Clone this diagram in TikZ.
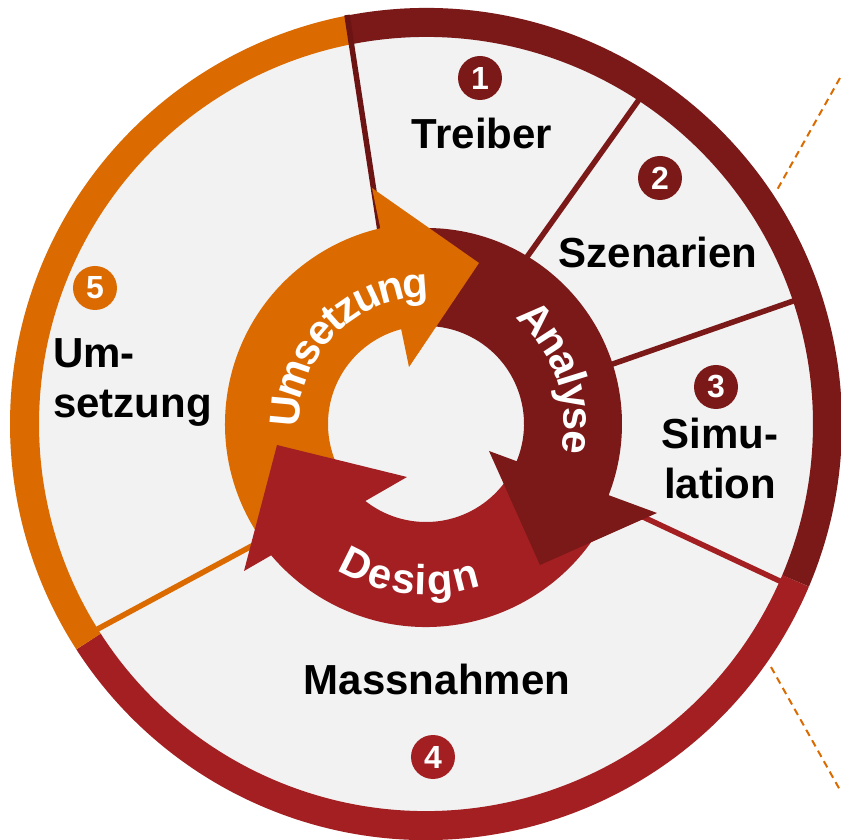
\documentclass[tikz,border=0pt]{standalone}
\usepackage{fontspec}
\setmainfont{Liberation Sans}
\usepackage{xcolor}
\usetikzlibrary{calc, decorations.text}

\definecolor{analysered}{HTML}{7B1818}
\definecolor{designred}{HTML}{A31F22}
\definecolor{umsorange}{HTML}{DB6B00}
\definecolor{paper}{HTML}{F2F2F2}
\definecolor{seamred}{HTML}{6C1313}

\newcommand{\labelfont}{\fontsize{42}{50}\selectfont\bfseries}
\newcommand{\arrowfont}{\fontsize{42}{42}\selectfont\bfseries}

\begin{document}
\begin{tikzpicture}[x=1pt, y=1pt,
		badge/.style = {circle, minimum size = 44pt, inner sep = 0pt, text = white, font = \fontsize{32}{32}\selectfont\bfseries},
		phase/.style = {inner sep = 0pt, font = \labelfont},
		divider/.style = {line width = 5.5pt},
		ringpart/.style = {line width = 29pt},
		callout/.style = {umsorange, line width = 2pt, dash pattern = on 7pt off 5pt}
	]
		\def\rout{416};
		\def\rring{401.5};
		\def\rin{98};
		
		\useasboundingbox (-426,-416) rectangle (415,424);
		
		\coordinate (center) at (0,0);
		\coordinate (callout top) at (414,346);
		\coordinate (callout top end) at (351,234);
		\coordinate (callout bottom) at (345,-243);
		\coordinate (callout bottom end) at (414,-366);
		
		% disc and outer ring
		\fill [paper] (center) circle [radius = \rout];
		\draw [ringpart, analysered] (101:\rring) arc [start angle = 101, end angle = -23, radius = \rring];
		\draw [ringpart, designred] (-23:\rring) arc [start angle = -23, end angle = -147.2, radius = \rring];
		\draw [ringpart, umsorange] (212.8:\rring) arc [start angle = 212.8, end angle = 101, radius = \rring];
		
		% dividers between the fields
		\draw [divider, seamred] (-79,409) -- (-44,180);
		\draw [divider, analysered] (217,330) -- (96,160);
		\draw [divider, analysered] (373,125) -- (181,58);
		\draw [divider, designred] (358,-159) -- (200,-85);
		\draw [divider, umsorange] (-332,-207) -- (-165,-117);
		
		% shafts of the cycle
		\fill [umsorange] (217:201) arc [start angle = 217, end angle = 100, radius = 201] -- (100:\rin) arc [start angle = 100, end angle = 217, radius = \rin] -- cycle;
		\fill [analysered] (95:196) arc [start angle = 95, end angle = -24, radius = 196] -- (-24:\rin) arc [start angle = -24, end angle = 95, radius = \rin] -- cycle;
		\fill [designred] (-25:203) arc [start angle = -25, end angle = -143, radius = 203] -- (229:\rin) arc [start angle = 229, end angle = 335, radius = \rin] -- cycle;
		
		% heads
		\fill [umsorange] (-54,236) -- (53,161) -- (-17,57) -- cycle;
		\fill [analysered] (231,-89) -- (114,-141) -- (63,-27) -- cycle;
		\fill [designred] (-182,-147) -- (-149,-21) -- (-19,-53) -- cycle;
		
		% words on the arrows
		\path [decorate, decoration = {text along path, text align = center, text color = white, raise = -14pt, text = {|\arrowfont|Umsetzung}}] (205:141) arc [start angle = 205, end angle = 65, radius = 141];
		\path [decorate, decoration = {text along path, text align = center, text color = white, raise = -14pt, text = {|\arrowfont|Analyse}}] (79:152) arc [start angle = 79, end angle = -41, radius = 152];
		\path [decorate, decoration = {text along path, text align = center, text color = white, raise = -14pt, text = {|\arrowfont|Design}}] (203:157) arc [start angle = 203, end angle = 324, radius = 157];
		
		% fields
		\node [badge, fill = analysered] (badge 1) at (54,346) {1};
		\node [phase, anchor = base] (treiber) at (56,275) {Treiber};
		\node [badge, fill = analysered] (badge 2) at (234,246) {2};
		\node [phase, anchor = base] (szenarien) at (232,156) {Szenarien};
		\node [badge, fill = analysered] (badge 3) at (290,37) {3};
		\node [phase, align = center] (simulation) at (294,-34.7) {Simu-\\lation};
		\node [badge, fill = designred] (badge 4) at (7,-333) {4};
		\node [phase, anchor = base] (massnahmen) at (11,-271) {Massnahmen};
		\node [badge, fill = umsorange] (badge 5) at (-331,136) {5};
		\node [phase, align = left, anchor = west] (umsetzung) at (-373,41.6) {Um-\\setzung};
		
		\draw [callout] (callout top) -- (callout top end);
		\draw [callout] (callout bottom) -- (callout bottom end);
	\end{tikzpicture}
\end{document}
